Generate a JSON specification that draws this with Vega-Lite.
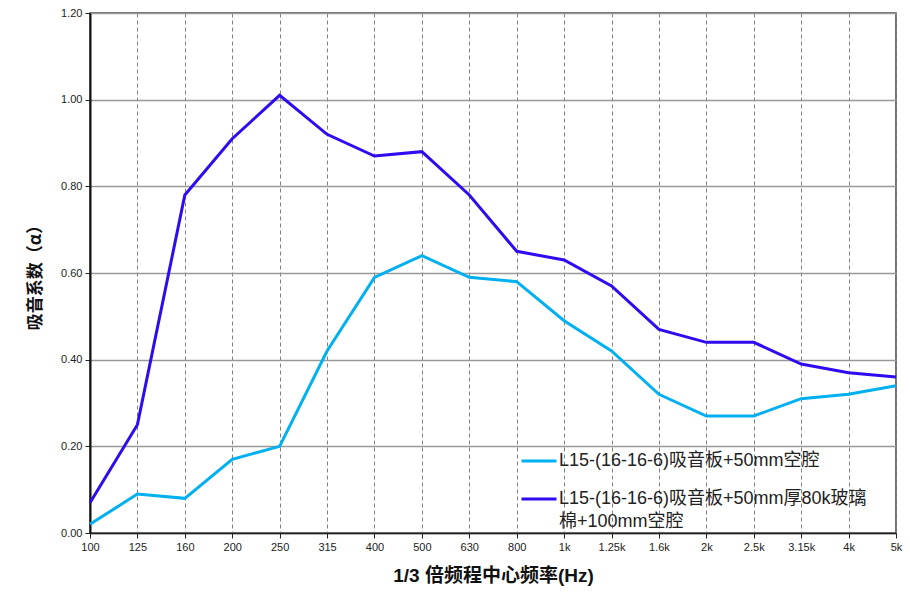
{
  "$schema": "https://vega.github.io/schema/vega-lite/v6.json",
  "width": 806,
  "height": 520,
  "autosize": "none",
  "padding": {"left": 90, "top": 13, "right": 14, "bottom": 59},
  "background": "white",
  "config": {
    "view": {"stroke": "#444", "strokeWidth": 1.5},
    "font": "Liberation Sans, Noto Sans CJK SC"
  },
  "data": {
    "values": [
      {"freq": "100", "series": "L15-(16-16-6)吸音板+50mm空腔", "alpha": 0.02},
      {"freq": "125", "series": "L15-(16-16-6)吸音板+50mm空腔", "alpha": 0.09},
      {"freq": "160", "series": "L15-(16-16-6)吸音板+50mm空腔", "alpha": 0.08},
      {"freq": "200", "series": "L15-(16-16-6)吸音板+50mm空腔", "alpha": 0.17},
      {"freq": "250", "series": "L15-(16-16-6)吸音板+50mm空腔", "alpha": 0.20},
      {"freq": "315", "series": "L15-(16-16-6)吸音板+50mm空腔", "alpha": 0.42},
      {"freq": "400", "series": "L15-(16-16-6)吸音板+50mm空腔", "alpha": 0.59},
      {"freq": "500", "series": "L15-(16-16-6)吸音板+50mm空腔", "alpha": 0.64},
      {"freq": "630", "series": "L15-(16-16-6)吸音板+50mm空腔", "alpha": 0.59},
      {"freq": "800", "series": "L15-(16-16-6)吸音板+50mm空腔", "alpha": 0.58},
      {"freq": "1k", "series": "L15-(16-16-6)吸音板+50mm空腔", "alpha": 0.49},
      {"freq": "1.25k", "series": "L15-(16-16-6)吸音板+50mm空腔", "alpha": 0.42},
      {"freq": "1.6k", "series": "L15-(16-16-6)吸音板+50mm空腔", "alpha": 0.32},
      {"freq": "2k", "series": "L15-(16-16-6)吸音板+50mm空腔", "alpha": 0.27},
      {"freq": "2.5k", "series": "L15-(16-16-6)吸音板+50mm空腔", "alpha": 0.27},
      {"freq": "3.15k", "series": "L15-(16-16-6)吸音板+50mm空腔", "alpha": 0.31},
      {"freq": "4k", "series": "L15-(16-16-6)吸音板+50mm空腔", "alpha": 0.32},
      {"freq": "5k", "series": "L15-(16-16-6)吸音板+50mm空腔", "alpha": 0.34},
      {"freq": "100", "series": "L15-(16-16-6)吸音板+50mm厚80k玻璃棉+100mm空腔", "alpha": 0.07},
      {"freq": "125", "series": "L15-(16-16-6)吸音板+50mm厚80k玻璃棉+100mm空腔", "alpha": 0.25},
      {"freq": "160", "series": "L15-(16-16-6)吸音板+50mm厚80k玻璃棉+100mm空腔", "alpha": 0.78},
      {"freq": "200", "series": "L15-(16-16-6)吸音板+50mm厚80k玻璃棉+100mm空腔", "alpha": 0.91},
      {"freq": "250", "series": "L15-(16-16-6)吸音板+50mm厚80k玻璃棉+100mm空腔", "alpha": 1.01},
      {"freq": "315", "series": "L15-(16-16-6)吸音板+50mm厚80k玻璃棉+100mm空腔", "alpha": 0.92},
      {"freq": "400", "series": "L15-(16-16-6)吸音板+50mm厚80k玻璃棉+100mm空腔", "alpha": 0.87},
      {"freq": "500", "series": "L15-(16-16-6)吸音板+50mm厚80k玻璃棉+100mm空腔", "alpha": 0.88},
      {"freq": "630", "series": "L15-(16-16-6)吸音板+50mm厚80k玻璃棉+100mm空腔", "alpha": 0.78},
      {"freq": "800", "series": "L15-(16-16-6)吸音板+50mm厚80k玻璃棉+100mm空腔", "alpha": 0.65},
      {"freq": "1k", "series": "L15-(16-16-6)吸音板+50mm厚80k玻璃棉+100mm空腔", "alpha": 0.63},
      {"freq": "1.25k", "series": "L15-(16-16-6)吸音板+50mm厚80k玻璃棉+100mm空腔", "alpha": 0.57},
      {"freq": "1.6k", "series": "L15-(16-16-6)吸音板+50mm厚80k玻璃棉+100mm空腔", "alpha": 0.47},
      {"freq": "2k", "series": "L15-(16-16-6)吸音板+50mm厚80k玻璃棉+100mm空腔", "alpha": 0.44},
      {"freq": "2.5k", "series": "L15-(16-16-6)吸音板+50mm厚80k玻璃棉+100mm空腔", "alpha": 0.44},
      {"freq": "3.15k", "series": "L15-(16-16-6)吸音板+50mm厚80k玻璃棉+100mm空腔", "alpha": 0.39},
      {"freq": "4k", "series": "L15-(16-16-6)吸音板+50mm厚80k玻璃棉+100mm空腔", "alpha": 0.37},
      {"freq": "5k", "series": "L15-(16-16-6)吸音板+50mm厚80k玻璃棉+100mm空腔", "alpha": 0.36}
    ]
  },
  "mark": {"type": "line", "strokeWidth": 3, "clip": false},
  "encoding": {
    "x": {
      "field": "freq",
      "type": "ordinal",
      "sort": ["100", "125", "160", "200", "250", "315", "400", "500", "630", "800", "1k", "1.25k", "1.6k", "2k", "2.5k", "3.15k", "4k", "5k"],
      "scale": {"type": "point", "padding": 0},
      "title": "1/3 倍频程中心频率(Hz)",
      "axis": {
        "labelAngle": 0,
        "labelFontSize": 11,
        "labelColor": "#222",
        "labelPadding": 3,
        "tickSize": 5,
        "tickColor": "#222",
        "domainColor": "#222",
        "domainWidth": 1.5,
        "grid": true,
        "gridDash": [4, 3],
        "gridColor": "#808080",
        "gridWidth": 1,
        "titleFontSize": 19,
        "titleFontWeight": "bold",
        "titleColor": "#111",
        "titlePadding": 14,
        "titleFont": "Liberation Sans, Noto Sans CJK SC"
      }
    },
    "y": {
      "field": "alpha",
      "type": "quantitative",
      "scale": {"domain": [0, 1.2], "nice": false},
      "title": "吸音系数（α）",
      "axis": {
        "values": [0, 0.2, 0.4, 0.6, 0.8, 1.0, 1.2],
        "format": ".2f",
        "labelFontSize": 11,
        "labelColor": "#222",
        "labelPadding": 3,
        "tickSize": 5,
        "tickColor": "#222",
        "domainColor": "#111",
        "domainWidth": 2,
        "grid": true,
        "gridColor": "#999",
        "gridWidth": 1.5,
        "titleFontSize": 17,
        "titleFontWeight": "bold",
        "titleColor": "#111",
        "titlePadding": 16,
        "titleFont": "Noto Sans CJK SC"
      }
    },
    "color": {
      "field": "series",
      "type": "nominal",
      "sort": ["L15-(16-16-6)吸音板+50mm空腔", "L15-(16-16-6)吸音板+50mm厚80k玻璃棉+100mm空腔"],
      "scale": {"range": ["#00B0F0", "#2F0BF0"]},
      "legend": {
        "title": null,
        "orient": "none",
        "legendX": 430,
        "legendY": 429,
        "symbolType": "stroke",
        "symbolSize": 1225,
        "symbolStrokeWidth": 3,
        "labelFontSize": 18,
        "labelColor": "#222",
        "labelOffset": 1,
        "labelLimit": 400,
        "rowPadding": 10,
        "encode": {"labels": {"update": {"lineHeight": {"value": 23}}}},
        "labelExpr": "datum.label == 'L15-(16-16-6)吸音板+50mm厚80k玻璃棉+100mm空腔' ? ['L15-(16-16-6)吸音板+50mm厚80k玻璃', '棉+100mm空腔'] : datum.label"
      }
    }
  }
}
